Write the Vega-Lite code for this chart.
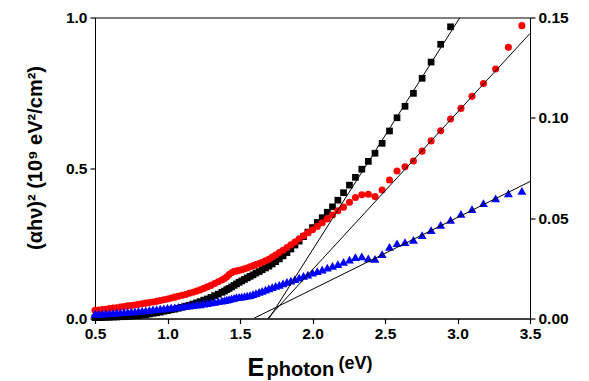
{
  "$schema": "https://vega.github.io/schema/vega-lite/v6.json",
  "width": 435,
  "height": 301,
  "autosize": {"type": "none"},
  "padding": {"left": 95, "top": 17.5, "right": 59, "bottom": 62.5},
  "config": {
    "view": {"stroke": "black", "strokeWidth": 1},
    "axis": {"grid": false, "labelFlush": false, "labelFont": "Liberation Sans", "labelFontWeight": "bold", "labelFontSize": 15.5, "labelColor": "black", "titleFont": "Liberation Sans", "titleFontWeight": "bold", "titleColor": "black", "domainColor": "black", "domainWidth": 1, "ticks": true, "tickColor": "black", "tickWidth": 1.2, "tickSize": 5, "labelPadding": 3}
  },
  "datasets": {
    "black": [
      {"E":0.5,"v":0.003},{"E":0.525,"v":0.003},{"E":0.55,"v":0.003},{"E":0.575,"v":0.004},{"E":0.6,"v":0.004},{"E":0.625,"v":0.005},{"E":0.65,"v":0.005},{"E":0.675,"v":0.006},{"E":0.7,"v":0.006},{"E":0.725,"v":0.007},{"E":0.75,"v":0.008},{"E":0.775,"v":0.009},{"E":0.8,"v":0.01},{"E":0.825,"v":0.012},{"E":0.85,"v":0.013},{"E":0.875,"v":0.015},{"E":0.9,"v":0.017},{"E":0.925,"v":0.019},{"E":0.95,"v":0.021},{"E":0.975,"v":0.024},{"E":1.0,"v":0.026},{"E":1.025,"v":0.029},{"E":1.05,"v":0.031},{"E":1.075,"v":0.034},{"E":1.1,"v":0.037},{"E":1.125,"v":0.041},{"E":1.15,"v":0.044},{"E":1.175,"v":0.048},{"E":1.2,"v":0.052},{"E":1.225,"v":0.056},{"E":1.25,"v":0.061},{"E":1.275,"v":0.065},{"E":1.3,"v":0.07},{"E":1.325,"v":0.076},{"E":1.35,"v":0.081},{"E":1.375,"v":0.087},
      {"E":1.393,"v":0.091},{"E":1.409,"v":0.096},{"E":1.425,"v":0.1},{"E":1.442,"v":0.105},{"E":1.459,"v":0.11},{"E":1.476,"v":0.115},{"E":1.494,"v":0.12},{"E":1.512,"v":0.125},{"E":1.531,"v":0.13},{"E":1.55,"v":0.135},{"E":1.57,"v":0.14},{"E":1.59,"v":0.145},{"E":1.61,"v":0.151},{"E":1.632,"v":0.156},{"E":1.653,"v":0.162},{"E":1.676,"v":0.168},{"E":1.699,"v":0.174},{"E":1.722,"v":0.181},{"E":1.746,"v":0.189},{"E":1.771,"v":0.198},{"E":1.797,"v":0.208},{"E":1.824,"v":0.219},{"E":1.851,"v":0.231},{"E":1.879,"v":0.244},{"E":1.908,"v":0.257},{"E":1.938,"v":0.272},{"E":1.968,"v":0.287},{"E":2.0,"v":0.302},{"E":2.033,"v":0.319},{"E":2.067,"v":0.335},{"E":2.102,"v":0.353},{"E":2.138,"v":0.371},{"E":2.175,"v":0.393},{"E":2.214,"v":0.418},{"E":2.255,"v":0.443},{"E":2.296,"v":0.469},{"E":2.34,"v":0.496},{"E":2.385,"v":0.522},{"E":2.431,"v":0.549},{"E":2.48,"v":0.582},{"E":2.531,"v":0.623},{"E":2.583,"v":0.667},{"E":2.638,"v":0.705},{"E":2.696,"v":0.748},{"E":2.756,"v":0.798},{"E":2.818,"v":0.852},{"E":2.884,"v":0.911},{"E":2.952,"v":0.969}
    ],
    "red": [
      {"E":0.5,"v":0.027},{"E":0.525,"v":0.028},{"E":0.55,"v":0.03},{"E":0.575,"v":0.031},{"E":0.6,"v":0.033},{"E":0.625,"v":0.035},{"E":0.65,"v":0.036},{"E":0.675,"v":0.038},{"E":0.7,"v":0.04},{"E":0.725,"v":0.042},{"E":0.75,"v":0.043},{"E":0.775,"v":0.045},{"E":0.8,"v":0.047},{"E":0.825,"v":0.049},{"E":0.85,"v":0.051},{"E":0.875,"v":0.053},{"E":0.9,"v":0.055},{"E":0.925,"v":0.057},{"E":0.95,"v":0.06},{"E":0.975,"v":0.062},{"E":1.0,"v":0.065},{"E":1.025,"v":0.068},{"E":1.05,"v":0.071},{"E":1.075,"v":0.074},{"E":1.1,"v":0.077},{"E":1.125,"v":0.08},{"E":1.15,"v":0.084},{"E":1.175,"v":0.087},{"E":1.2,"v":0.091},{"E":1.225,"v":0.095},{"E":1.25,"v":0.1},{"E":1.275,"v":0.105},{"E":1.3,"v":0.11},{"E":1.325,"v":0.116},{"E":1.35,"v":0.122},{"E":1.375,"v":0.128},
      {"E":1.393,"v":0.133},{"E":1.409,"v":0.139},{"E":1.425,"v":0.146},{"E":1.442,"v":0.152},{"E":1.459,"v":0.156},{"E":1.476,"v":0.158},{"E":1.494,"v":0.16},{"E":1.512,"v":0.162},{"E":1.531,"v":0.165},{"E":1.55,"v":0.168},{"E":1.57,"v":0.172},{"E":1.59,"v":0.175},{"E":1.61,"v":0.179},{"E":1.632,"v":0.183},{"E":1.653,"v":0.187},{"E":1.676,"v":0.192},{"E":1.699,"v":0.197},{"E":1.722,"v":0.204},{"E":1.746,"v":0.211},{"E":1.771,"v":0.219},{"E":1.797,"v":0.227},{"E":1.824,"v":0.236},{"E":1.851,"v":0.245},{"E":1.879,"v":0.254},{"E":1.908,"v":0.265},{"E":1.938,"v":0.275},{"E":1.968,"v":0.285},{"E":2.0,"v":0.295},{"E":2.033,"v":0.306},{"E":2.067,"v":0.318},{"E":2.102,"v":0.331},{"E":2.138,"v":0.344},{"E":2.175,"v":0.358},{"E":2.214,"v":0.37},{"E":2.255,"v":0.386},{"E":2.296,"v":0.402},{"E":2.34,"v":0.411},{"E":2.385,"v":0.413},{"E":2.431,"v":0.405},{"E":2.48,"v":0.427},{"E":2.531,"v":0.46},{"E":2.583,"v":0.49},{"E":2.638,"v":0.504},{"E":2.696,"v":0.523},{"E":2.756,"v":0.556},{"E":2.818,"v":0.59},{"E":2.884,"v":0.624},{"E":2.952,"v":0.663},{"E":3.024,"v":0.698},{"E":3.1,"v":0.738},{"E":3.179,"v":0.781},{"E":3.263,"v":0.829},{"E":3.351,"v":0.901},{"E":3.444,"v":0.973}
    ],
    "blue": [
      {"E":0.5,"v":0.0023},{"E":0.525,"v":0.0024},{"E":0.55,"v":0.0024},{"E":0.575,"v":0.0026},{"E":0.6,"v":0.0027},{"E":0.625,"v":0.0028},{"E":0.65,"v":0.0029},{"E":0.675,"v":0.003},{"E":0.7,"v":0.0032},{"E":0.725,"v":0.0033},{"E":0.75,"v":0.0035},{"E":0.775,"v":0.0036},{"E":0.8,"v":0.0038},{"E":0.825,"v":0.0039},{"E":0.85,"v":0.0041},{"E":0.875,"v":0.0043},{"E":0.9,"v":0.0045},{"E":0.925,"v":0.0047},{"E":0.95,"v":0.0049},{"E":0.975,"v":0.0051},{"E":1.0,"v":0.0053},{"E":1.025,"v":0.0054},{"E":1.05,"v":0.0056},{"E":1.075,"v":0.0058},{"E":1.1,"v":0.006},{"E":1.125,"v":0.0062},{"E":1.15,"v":0.0064},{"E":1.175,"v":0.0067},{"E":1.2,"v":0.0069},{"E":1.225,"v":0.0071},{"E":1.25,"v":0.0074},{"E":1.275,"v":0.0077},{"E":1.3,"v":0.008},{"E":1.325,"v":0.0083},{"E":1.35,"v":0.0086},{"E":1.375,"v":0.0089},
      {"E":1.393,"v":0.0092},{"E":1.409,"v":0.0094},{"E":1.425,"v":0.0097},{"E":1.442,"v":0.01},{"E":1.459,"v":0.0103},{"E":1.476,"v":0.0106},{"E":1.494,"v":0.0108},{"E":1.512,"v":0.0109},{"E":1.531,"v":0.0111},{"E":1.55,"v":0.0114},{"E":1.57,"v":0.0117},{"E":1.59,"v":0.0122},{"E":1.61,"v":0.0127},{"E":1.632,"v":0.0133},{"E":1.653,"v":0.0138},{"E":1.676,"v":0.0144},{"E":1.699,"v":0.015},{"E":1.722,"v":0.0156},{"E":1.746,"v":0.0162},{"E":1.771,"v":0.0168},{"E":1.797,"v":0.0175},{"E":1.824,"v":0.0182},{"E":1.851,"v":0.0189},{"E":1.879,"v":0.0196},{"E":1.908,"v":0.0204},{"E":1.938,"v":0.0212},{"E":1.968,"v":0.0219},{"E":2.0,"v":0.0228},{"E":2.033,"v":0.0236},{"E":2.067,"v":0.0244},{"E":2.102,"v":0.0253},{"E":2.138,"v":0.0262},{"E":2.175,"v":0.0271},{"E":2.214,"v":0.0282},{"E":2.255,"v":0.0294},{"E":2.296,"v":0.0306},{"E":2.34,"v":0.031},{"E":2.385,"v":0.03},{"E":2.431,"v":0.0297},{"E":2.48,"v":0.0321},{"E":2.531,"v":0.0357},{"E":2.583,"v":0.0375},{"E":2.638,"v":0.0381},{"E":2.696,"v":0.0392},{"E":2.756,"v":0.0416},{"E":2.818,"v":0.0441},{"E":2.884,"v":0.0467},{"E":2.952,"v":0.0491},{"E":3.024,"v":0.0521},{"E":3.1,"v":0.0545},{"E":3.179,"v":0.0575},{"E":3.263,"v":0.0599},{"E":3.351,"v":0.0624},{"E":3.444,"v":0.0636}
    ],
    "lines": [
      {"id":"A","E":1.7,"v":0},{"id":"A","E":3.017,"v":1.0},
      {"id":"B","E":1.69,"v":0},{"id":"B","E":3.5,"v":0.947},
      {"id":"C","E":1.593,"v":0},{"id":"C","E":3.5,"v":0.455}
    ]
  },
  "layer": [
    {
      "layer": [
        {
          "data": {"name": "black"},
          "mark": {"type": "point", "shape": "square", "filled": true, "size": 45, "color": "black", "opacity": 1},
          "encoding": {
            "x": {"field": "E", "type": "quantitative", "scale": {"domain": [0.5, 3.5], "nice": false},
              "axis": {"orient": "bottom", "title": "E", "values": [0.5, 1, 1.5, 2, 2.5, 3, 3.5], "format": ".1f", "titleX": 152, "titleY": 56.5, "titleAlign": "left", "titleBaseline": "alphabetic", "titleFontSize": 25}},
            "y": {"field": "v", "type": "quantitative", "scale": {"domain": [0, 1], "nice": false},
              "axis": {"orient": "left", "title": "(αhν)² (10⁹ eV²/cm²)", "values": [0, 0.5, 1], "format": ".1f", "titleFontSize": 20, "titleX": -50, "titleY": 140, "titleAlign": "center", "titleBaseline": "bottom", "titleAngle": 270}}
          }
        },
        {
          "data": {"name": "red"},
          "mark": {"type": "circle", "size": 50, "color": "#ff0000", "opacity": 1},
          "encoding": {
            "x": {"field": "E", "type": "quantitative"},
            "y": {"field": "v", "type": "quantitative"}
          }
        }
      ]
    },
    {
      "data": {"name": "blue"},
      "mark": {"type": "point", "shape": "triangle-up", "filled": true, "size": 80, "color": "#0000ff", "opacity": 1},
      "encoding": {
        "x": {"field": "E", "type": "quantitative", "scale": {"domain": [0.5, 3.5], "nice": false},
          "axis": {"orient": "bottom", "title": "photon", "labels": false, "ticks": false, "domain": false, "titleX": 171, "titleY": 56.5, "titleAlign": "left", "titleBaseline": "alphabetic", "titleFontSize": 20}},
        "y": {"field": "v", "type": "quantitative", "scale": {"domain": [0, 0.15], "nice": false},
          "axis": {"orient": "right", "title": null, "values": [0, 0.05, 0.1, 0.15], "format": ".2f"}}
      }
    },
    {
      "data": {"name": "lines"},
      "mark": {"type": "line", "color": "black", "strokeWidth": 1, "clip": true},
      "encoding": {
        "x": {"field": "E", "type": "quantitative", "scale": {"domain": [0.5, 3.5], "nice": false},
          "axis": {"orient": "bottom", "title": "(eV)", "labels": false, "ticks": false, "domain": false, "titleX": 243, "titleY": 49.5, "titleAlign": "left", "titleBaseline": "alphabetic", "titleFontSize": 18}},
        "y": {"field": "v", "type": "quantitative", "scale": {"domain": [0, 1], "nice": false}, "axis": null},
        "detail": {"field": "id", "type": "nominal"}
      }
    }
  ],
  "resolve": {"scale": {"y": "independent"}, "axis": {"x": "independent", "y": "independent"}}
}
